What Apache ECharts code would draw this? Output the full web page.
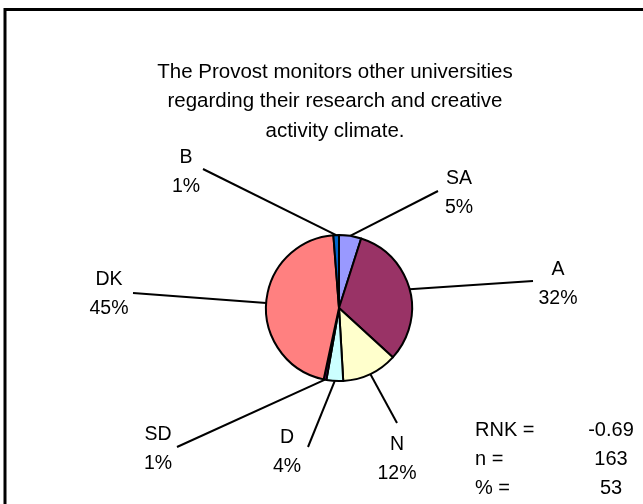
<!DOCTYPE html>
<html><head><meta charset="utf-8">
<script src="https://cdn.jsdelivr.net/npm/echarts@6/dist/echarts.min.js"></script>
<style>html,body{margin:0;padding:0;background:#fff}#c{width:643px;height:504px}</style>
</head><body><div id="c"></div>
<script>
// ---- data ----
const categories = ['SA', 'A', 'N', 'D', 'SD', 'DK', 'B'];
const counts = [8, 52, 20, 6, 1, 74, 2];
const titleLines = ['The Provost monitors other universities', 'regarding their research and creative', 'activity climate.'];
const statLabels = ['RNK =', 'n =', '% ='];
const statValues = ['-0.69', '163', '53'];

// ---- style / layout ----
const colors = ['#9999FF', '#993366', '#FFFFCC', '#CCFFFF', '#660066', '#FF8080', '#0066CC'];
const FONT = '"Liberation Sans", Arial, sans-serif';
const CX = 339, CY = 308, R = 73;
const labelOffsets = [[120, -115], [219, -24], [58, 151], [-52, 144], [-181, 141], [-230, -14], [-153, -136]];
const lineEnds = [[99, -117], [194, -27], [58, 115], [-31, 139], [-162, 139], [-206, -15], [-136, -139]];

const chart = echarts.init(document.getElementById('c'), null, {renderer: 'canvas'});
const graphics = [
  {type: 'rect', shape: {x: 5, y: 9.5, width: 800, height: 600}, style: {fill: 'none', stroke: '#000', lineWidth: 3}, silent: true},
  {type: 'text', x: 335, y: 101.5, style: {text: titleLines.join('\n'), font: '20.5px ' + FONT, lineHeight: 29.5, align: 'center', verticalAlign: 'middle', fill: '#000'}}
];
statLabels.forEach((t, i) => {
  graphics.push({type: 'text', x: 475, y: 430 + i * 29, style: {text: t, font: '20px ' + FONT, align: 'left', verticalAlign: 'middle', fill: '#000'}});
  graphics.push({type: 'text', x: 611, y: 430 + i * 29, style: {text: statValues[i], font: '20px ' + FONT, align: 'center', verticalAlign: 'middle', fill: '#000'}});
});

chart.setOption({
  animation: false,
  backgroundColor: '#fff',
  graphic: graphics,
  series: [{
    type: 'pie',
    center: [CX, CY],
    radius: R,
    startAngle: 90,
    clockwise: true,
    percentPrecision: 0,
    avoidLabelOverlap: false,
    data: categories.map((c, i) => ({name: c, value: counts[i], itemStyle: {color: colors[i]}})),
    itemStyle: {borderColor: '#000', borderWidth: 2},
    label: {
      show: true, position: 'outside', formatter: '{b}\n{d}%',
      color: '#000', fontFamily: FONT, fontSize: 19.5, lineHeight: 29
    },
    labelLine: {show: true, length: 10, length2: 10, lineStyle: {color: '#000', width: 2}},
    labelLayout: function (p) {
      const i = p.dataIndex;
      const start = p.labelLinePoints ? p.labelLinePoints[0] : [CX, CY];
      const end = [CX + lineEnds[i][0], CY + lineEnds[i][1]];
      return {
        x: CX + labelOffsets[i][0], y: CY + labelOffsets[i][1],
        align: 'center', verticalAlign: 'middle',
        labelLinePoints: [start, end, end]
      };
    },
    emphasis: {disabled: true}
  }]
});
</script></body></html>
